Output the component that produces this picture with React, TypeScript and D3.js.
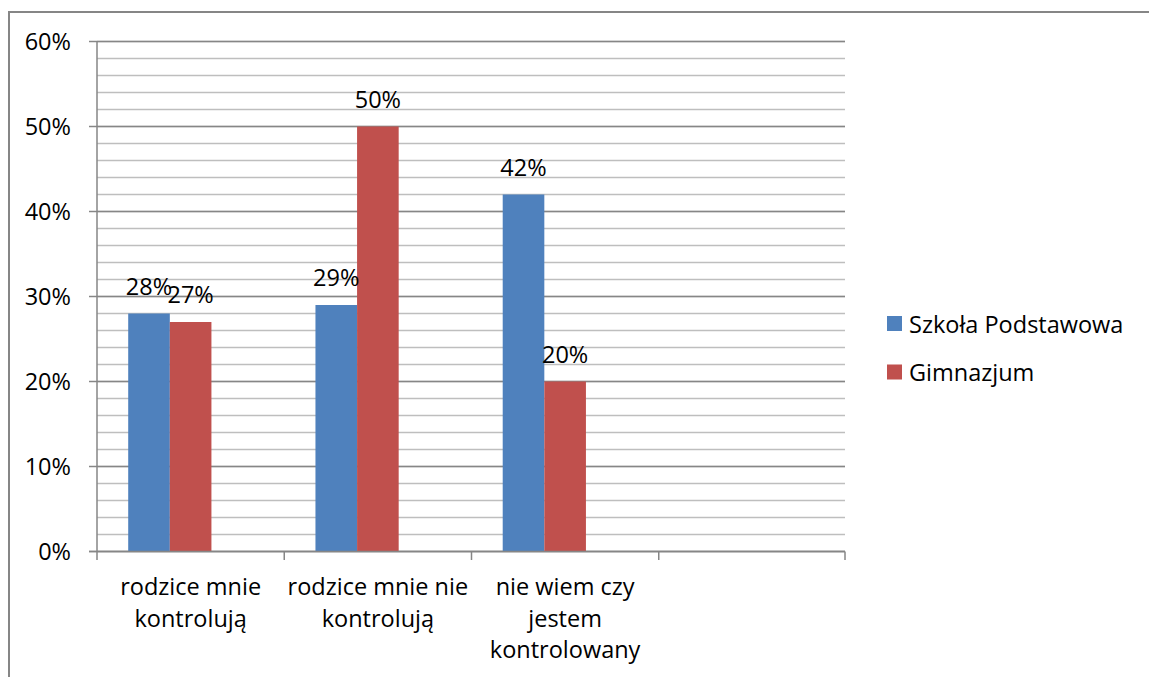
import React from "react";
import * as d3 from "d3";

const categoryLines: string[][] = [
  ["rodzice mnie", "kontrolują"],
  ["rodzice mnie nie", "kontrolują"],
  ["nie wiem czy", "jestem", "kontrolowany"],
  [],
];
const categoryKeys = ["c1", "c2", "c3", "c4"];
const seriesNames = ["Szkoła Podstawowa", "Gimnazjum"];
const seriesSlots = ["Szkoła Podstawowa", "Gimnazjum", "_blank"];
const szkolaValues: (number | null)[] = [0.28, 0.29, 0.42, null];
const gimnazjumValues: (number | null)[] = [0.27, 0.5, 0.2, null];
const yTicks = [0, 0.1, 0.2, 0.3, 0.4, 0.5, 0.6];
const yMinorTicks = d3.range(0, 0.6001, 0.02);
const seriesColors = ["#4F81BD", "#C0504D"];

const W = 1149;
const H = 677;
const FONT = "'Open Sans', sans-serif";
const FS = 23.5;

export default function App() {
  const plotLeft = 97;
  const plotRight = 846;
  const plotTop = 41.5;
  const plotBottom = 551.5;

  const y = d3.scaleLinear().domain([0, 0.6]).range([plotBottom, plotTop]);
  const x = d3.scaleBand().domain(categoryKeys).range([plotLeft, plotRight]).padding(0);
  const xs = d3
    .scaleBand()
    .domain(seriesSlots)
    .range([0, x.bandwidth()])
    .paddingInner(0)
    .paddingOuter(0.75);

  const seriesValues = [szkolaValues, gimnazjumValues];
  const axisColor = "#868686";
  const minorColor = "#BEBEBE";

  return (
    <svg
      width={W}
      height={H}
      style={{ position: "absolute", left: 0, top: 0, background: "#fff" }}
      fontFamily={FONT}
    >
      <rect x={0} y={0} width={W} height={H} fill="#fff" />
      <rect x={9} y={12} width={1400} height={1000} fill="none" stroke={axisColor} strokeWidth={2} />

      {yMinorTicks.map((t, i) => (
        <line
          key={"mn" + i}
          x1={plotLeft}
          x2={plotRight - 1}
          y1={Math.round(y(t) - 0.5) + 0.5}
          y2={Math.round(y(t) - 0.5) + 0.5}
          stroke={minorColor}
          strokeWidth={1.3}
        />
      ))}
      {yTicks.map((t, i) => (
        <g key={"mj" + i}>
          <line
            x1={89}
            x2={plotRight - 1}
            y1={Math.round(y(t) - 0.5) + 0.5}
            y2={Math.round(y(t) - 0.5) + 0.5}
            stroke={axisColor}
            strokeWidth={1.3}
          />
          <text x={71} y={y(t) + 8.5} textAnchor="end" fontSize={FS} fill="#000">
            {d3.format(".0%")(t)}
          </text>
        </g>
      ))}

      <line x1={plotLeft} x2={plotLeft} y1={plotTop} y2={plotBottom} stroke={axisColor} strokeWidth={1.5} />
      {categoryKeys.map((k, i) => (
        <line
          key={"ct" + i}
          x1={x(k)!}
          x2={x(k)!}
          y1={plotBottom}
          y2={plotBottom + 8.5}
          stroke={axisColor}
          strokeWidth={1.5}
        />
      ))}
      <line
        x1={plotRight - 1}
        x2={plotRight - 1}
        y1={plotBottom}
        y2={plotBottom + 8.5}
        stroke={axisColor}
        strokeWidth={1.5}
      />

      {seriesValues.map((vals, si) =>
        vals.map((v, ci) =>
          v == null ? null : (
            <rect
              key={"b" + si + "-" + ci}
              x={x(categoryKeys[ci])! + xs(seriesSlots[si])!}
              y={y(v)}
              width={xs.bandwidth()}
              height={plotBottom - y(v)}
              fill={seriesColors[si]}
            />
          )
        )
      )}
      <line x1={89} x2={plotRight - 1} y1={plotBottom} y2={plotBottom} stroke={axisColor} strokeWidth={1.5} />

      {seriesValues.map((vals, si) =>
        vals.map((v, ci) =>
          v == null ? null : (
            <text
              key={"l" + si + "-" + ci}
              x={x(categoryKeys[ci])! + xs(seriesSlots[si])! + xs.bandwidth() / 2}
              y={y(v) - 19}
              textAnchor="middle"
              fontSize={FS}
              fill="#000"
            >
              {d3.format(".0%")(v)}
            </text>
          )
        )
      )}

      {categoryLines.map((lines, ci) => (
        <text key={"cl" + ci} textAnchor="middle" fontSize={FS} fill="#000">
          {lines.map((ln, li) => (
            <tspan key={li} x={x(categoryKeys[ci])! + x.bandwidth() / 2} y={595 + li * 31.5}>
              {ln}
            </tspan>
          ))}
        </text>
      ))}

      {seriesNames.map((name, i) => (
        <g key={"lg" + i}>
          <rect x={887} y={316 + i * 48.5} width={15} height={15} fill={seriesColors[i]} />
          <text x={909} y={332.5 + i * 48} fontSize={FS} fill="#000">
            {name}
          </text>
        </g>
      ))}
    </svg>
  );
}
